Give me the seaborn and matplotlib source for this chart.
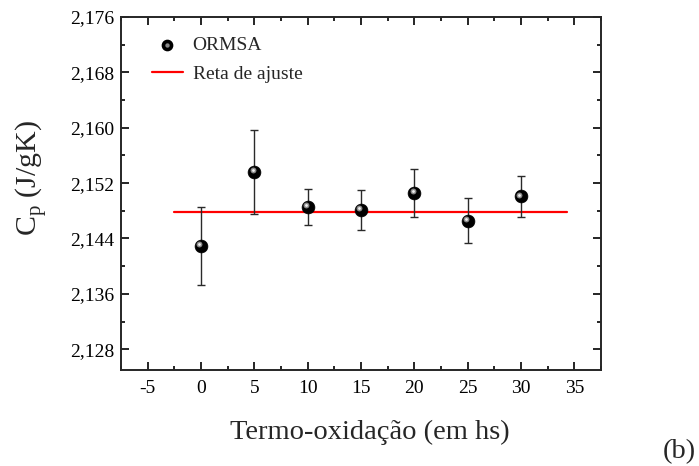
import numpy as np
import pandas as pd
import matplotlib
matplotlib.use("Agg")
import matplotlib.pyplot as plt
import matplotlib.transforms as mtransforms
from matplotlib.ticker import MultipleLocator, FuncFormatter
from matplotlib.legend_handler import HandlerTuple
import seaborn as sns

# Data
hours = [0, 5, 10, 15, 20, 25, 30]
cp = [2.1429, 2.1536, 2.1486, 2.1481, 2.1506, 2.1466, 2.1501]
cp_err = [0.0056, 0.0061, 0.0026, 0.0029, 0.0035, 0.0032, 0.0030]
fit_x = [-2.5, 34.3]
fit_y = [2.1478, 2.1478]

df = pd.DataFrame({"hours": hours, "cp": cp, "err": cp_err})
fit_df = pd.DataFrame({"x": fit_x, "y": fit_y})

sns.set_style("ticks")
plt.rcParams["font.family"] = ["Liberation Serif", "DejaVu Serif"]
plt.rcParams["mathtext.fontset"] = "custom"
plt.rcParams["mathtext.rm"] = "Liberation Serif"

fig = plt.figure(figsize=(6.99, 4.66), dpi=100)
ax = fig.add_axes([0.173, 0.206, 0.687, 0.7575])

# fit line
sns.lineplot(data=fit_df, x="x", y="y", color="#ff0000", linewidth=1.6, ax=ax,
             legend=False, zorder=2)

# error bars
ax.errorbar(df["hours"], df["cp"], yerr=df["err"], fmt="none", ecolor="#2a2a2a",
            elinewidth=1.0, capsize=3.0, capthick=1.0, zorder=3)

# shaded sphere markers
sns.scatterplot(data=df, x="hours", y="cp", s=85, color="black", edgecolor="black",
                linewidth=0.5, ax=ax, zorder=4, legend=False)
off = mtransforms.ScaledTranslation(-1.2 / 72, 1.2 / 72, fig.dpi_scale_trans)
ax.scatter(df["hours"], df["cp"], s=18, color="#8a8a8a", linewidth=0,
           zorder=5, transform=ax.transData + off)
ax.scatter(df["hours"], df["cp"], s=4, color="#f0f0f0", linewidth=0,
           zorder=6, transform=ax.transData + off)

ax.set_xlim(-7.5, 37.5)
ax.set_ylim(2.125, 2.176)
ax.xaxis.set_major_locator(MultipleLocator(5))
ax.xaxis.set_minor_locator(MultipleLocator(2.5))
ax.yaxis.set_minor_locator(MultipleLocator(0.004))
ax.set_yticks(np.arange(2.128, 2.1765, 0.008))
ax.yaxis.set_major_formatter(FuncFormatter(lambda v, p: f"{v:.3f}".replace(".", ",")))
ax.xaxis.set_major_formatter(FuncFormatter(lambda v, p: f"{v:g}"))

ax.tick_params(which="both", direction="in", top=True, right=True, labelsize=14,
               width=1.2, colors="black")
ax.tick_params(which="major", length=6)
ax.tick_params(which="minor", length=3)
ax.tick_params(axis="x", pad=7)
ax.tick_params(axis="y", pad=5)
for sp in ax.spines.values():
    sp.set_linewidth(1.4)
    sp.set_visible(True)

ax.set_xlabel("Termo-oxidação (em hs)", fontsize=20.5, va="center")
ax.xaxis.set_label_coords(0.519, -0.176)
ax.set_ylabel("C$_{\\mathregular{p}}$ (J/gK)", fontsize=21.5, va="center")
ax.yaxis.set_label_coords(-0.187, 0.544)
fig.text(0.972, 0.031, "(b)", fontsize=20.5, ha="center", va="center")

# legend
sphere = ax.scatter([], [], s=55, color="black")
hs1 = ax.scatter([], [], s=10, color="#8a8a8a", linewidth=0)
fit_handle = ax.get_lines()[0]
ax.legend([(sphere, hs1), fit_handle], ["ORMSA", "Reta de ajuste"],
          handler_map={tuple: HandlerTuple(ndivide=1)},
          loc="upper left", bbox_to_anchor=(0.028, 0.995), frameon=False,
          fontsize=14, handlelength=1.6, handletextpad=0.5, labelspacing=0.6)

fig.savefig("out.png", dpi=100)
